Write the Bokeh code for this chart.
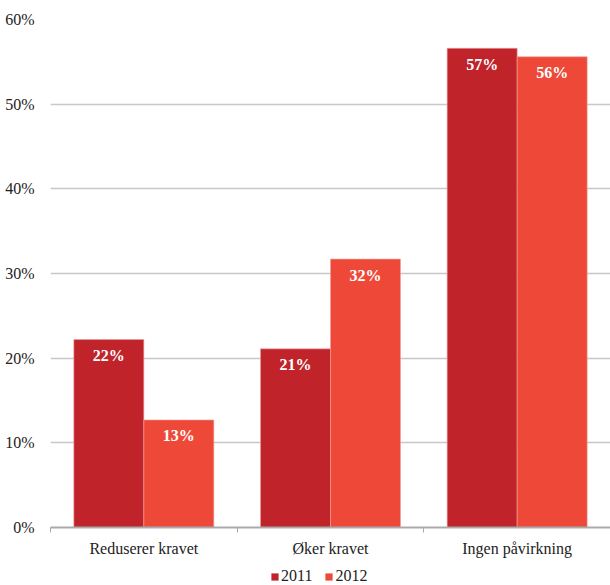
from bokeh.plotting import figure
from bokeh.layouts import column
from bokeh.models import (ColumnDataSource, FixedTicker, Range1d, Legend, LegendItem,
                          LinearAxis, Grid)
from bokeh.core.properties import value
from bokeh.embed import file_html
from bokeh.resources import INLINE

categories = ["Reduserer kravet", "Øker kravet", "Ingen påvirkning"]
series_names = ["2011", "2012"]
values_2011 = [22.2, 21.1, 56.6]
values_2012 = [12.7, 31.7, 55.6]
y_ticks = [0, 10, 20, 30, 40, 50, 60]

colors = ["#C0232A", "#EE4938"]
FONT = "Liberation Serif"

p = figure(width=610, height=565, output_backend="svg", toolbar_location=None,
           x_range=Range1d(0, len(categories)), y_range=Range1d(0, 60),
           x_axis_type=None, y_axis_type=None,
           min_border_left=50, min_border_right=0, min_border_top=19, min_border_bottom=38)
p.outline_line_color = None

# y axis
yax = LinearAxis(ticker=FixedTicker(ticks=y_ticks),
                 major_label_overrides={t: f"{t}%" for t in y_ticks})
yax.axis_line_color = None
yax.major_tick_line_color = None
yax.minor_tick_line_color = None
yax.major_label_text_font = FONT
yax.major_label_text_font_size = "16px"
yax.major_label_text_color = "#222222"
yax.major_label_standoff = 10
p.add_layout(yax, "left")

# x axis with ticks at category boundaries
centers = [i + 0.5 for i in range(len(categories))]
xax = LinearAxis(ticker=FixedTicker(ticks=centers, minor_ticks=list(range(len(categories) + 1))),
                 major_label_overrides={c: cat for c, cat in zip(centers, categories)})
xax.axis_line_color = "#AAAAAA"
xax.axis_line_width = 2
xax.major_tick_line_color = None
xax.minor_tick_line_color = "#AAAAAA"
xax.minor_tick_out = 5
xax.minor_tick_in = 0
xax.major_label_text_font = FONT
xax.major_label_text_font_size = "16px"
xax.major_label_text_color = "#222222"
xax.major_label_standoff = 6
p.add_layout(xax, "below")

g = Grid(dimension=1, ticker=FixedTicker(ticks=y_ticks[1:]), grid_line_color="#C8C8C8", grid_line_width=1.3)
p.add_layout(g)

bw = 0.375
sources = []
for k, (name, vals) in enumerate(zip(series_names, [values_2011, values_2012])):
    xs = [i + 0.5 + (k - 0.5) * bw for i in range(len(categories))]
    src = ColumnDataSource(dict(x=xs, top=vals, lbl=[f"{round(v)}%" for v in vals]))
    sources.append(src)
    p.vbar(x="x", top="top", width=bw, bottom=0, source=src, fill_color=colors[k],
           line_color="#F2A0A0", line_width=0.6)
    p.text(x="x", y="top", text="lbl", source=src, text_color="white",
           text_font=value(FONT), text_font_style="bold", text_font_size="16px",
           text_align="center", text_baseline="middle", y_offset=16)

# legend strip below the chart (its series renderers are hidden; only the legend shows)
lf = figure(width=610, height=20, output_backend="svg", toolbar_location=None,
            x_range=Range1d(0, len(categories)), y_range=Range1d(0, 60),
            x_axis_type=None, y_axis_type=None, min_border=0)
lf.outline_line_color = None
lf.background_fill_color = None
lf.border_fill_color = None
lf.xgrid.visible = False
lf.ygrid.visible = False
items = []
for k, name in enumerate(series_names):
    r = lf.vbar(x="x", top="top", width=bw, bottom=0, source=sources[k],
                fill_color=colors[k], line_color=None)
    r.visible = False
    items.append(LegendItem(label=name, renderers=[r], index=0))
legend = Legend(items=items, orientation="horizontal", location=(220, 0), click_policy="none")
legend.glyph_width = 9
legend.glyph_height = 9
legend.label_text_font = FONT
legend.label_text_font_size = "16px"
legend.label_text_color = "#222222"
legend.label_standoff = 2
legend.spacing = 12
legend.padding = 0
legend.margin = 0
legend.border_line_color = None
legend.background_fill_alpha = 0
lf.add_layout(legend)

layout = column(p, lf, spacing=0)
open("out.html", "w").write(file_html(layout, INLINE))
